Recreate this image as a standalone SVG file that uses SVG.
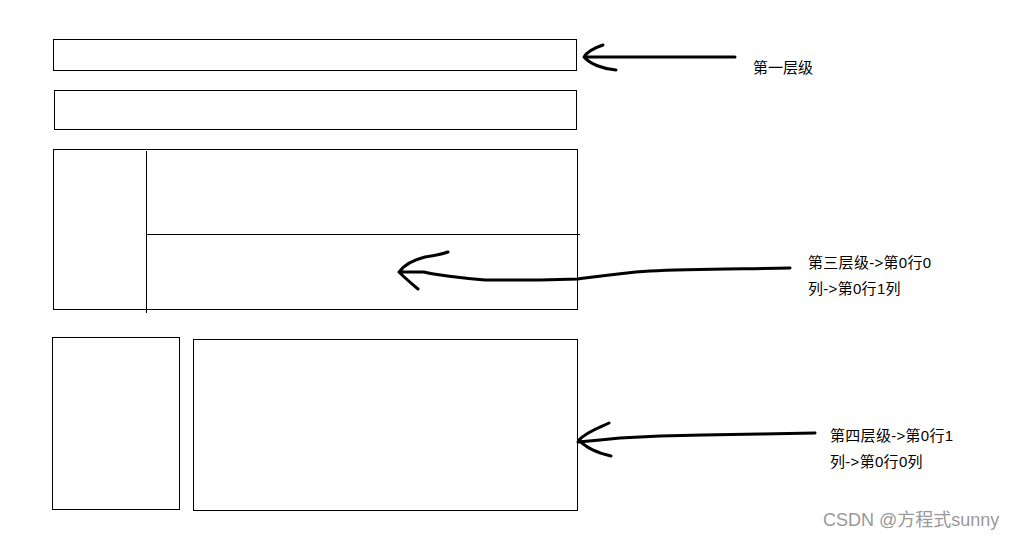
<svg xmlns="http://www.w3.org/2000/svg" width="1022" height="538" viewBox="0 0 1022 538">
<style>
.box{fill:none;stroke:#000;stroke-width:1}
.ln{stroke:#000;stroke-width:1}
.arr{fill:none;stroke:#000;stroke-width:3;stroke-linecap:round;stroke-linejoin:round}
.t{font-family:"Liberation Sans","Noto Sans CJK SC",sans-serif;font-size:15px;fill:#000}
.wm{font-family:"Liberation Sans","Noto Sans CJK SC",sans-serif;font-size:18px;fill:#999}
</style>
<rect width="1022" height="538" fill="#fff"/>
<g id="level1"><rect class="box" x="53.5" y="39.5" width="523" height="31"/></g>
<g id="level2"><rect class="box" x="54.5" y="90.5" width="522" height="39"/></g>
<g id="level3">
<rect class="box" x="53.5" y="149.5" width="524" height="160"/>
<line class="ln" x1="146.5" y1="151" x2="146.5" y2="313"/>
<line class="ln" x1="146" y1="234.5" x2="580" y2="234.5"/>
</g>
<g id="level4-left"><rect class="box" x="52.5" y="337.5" width="127" height="172"/></g>
<g id="level4-right"><rect class="box" x="193.5" y="339.5" width="384" height="171"/></g>
<g id="connectors">
<path class="arr" d="M735,57 L680,57 L640,57 L584,57 M603,45 C594,48 587,52 584,57 C590,64 603,69 616,70"/>
<path class="arr" d="M790,268 C740,269 690,269 650,271 C620,273 600,276 578,279 L540,280 L485,280 C460,278 430,274 424,272 L399,272 M448,252 C440,255 432,256 425,257 C413,260 404,265 399,272 C405,278 412,284 418,289"/>
<path class="arr" d="M815,433 L760,434 L703,435 L660,436 L620,438 L600,440 L578,442 M609,423 C598,428 586,432 579,440 C586,448 598,453 611,456"/>
</g>
<g id="labels">
<text class="t" x="753" y="73">第一层级</text>
<text class="t" x="808" y="268" letter-spacing="0.3">第三层级-&gt;第0行0</text>
<text class="t" x="808" y="294" letter-spacing="0.3">列-&gt;第0行1列</text>
<text class="t" x="830" y="441" letter-spacing="0.3">第四层级-&gt;第0行1</text>
<text class="t" x="830" y="467" letter-spacing="0.3">列-&gt;第0行0列</text>
<text class="wm" x="823" y="526">CSDN @方程式sunny</text>
</g>
</svg>
